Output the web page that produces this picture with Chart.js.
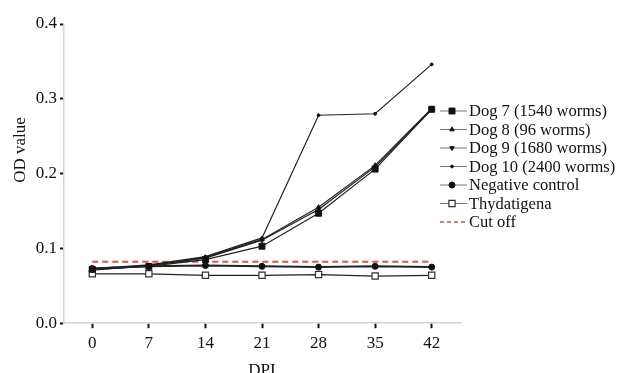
<!DOCTYPE html>
<html>
<head>
<meta charset="utf-8">
<script src="https://cdn.jsdelivr.net/npm/chart.js@4/dist/chart.umd.min.js"></script>
<style>
  html, body { margin: 0; padding: 0; background: #fff; }
  #wrap { width: 620px; height: 373px; }
</style>
</head>
<body>
<div id="wrap"><canvas id="odChart" width="620" height="373"></canvas></div>
<script>
// days post infection
const dpi = ['0', '7', '14', '21', '28', '35', '42'];

const dog7 = [0.072, 0.076, 0.085, 0.103, 0.147, 0.206, 0.286];
const dog8 = [0.072, 0.077, 0.088, 0.112, 0.155, 0.211, 0.287];
const dog9 = [0.071, 0.077, 0.087, 0.111, 0.152, 0.209, 0.286];
const dog10 = [0.073, 0.078, 0.089, 0.114, 0.278, 0.280, 0.346];
const negControl = [0.073, 0.076, 0.077, 0.076, 0.075, 0.076, 0.075];
const thydatigena = [0.066, 0.066, 0.064, 0.064, 0.065, 0.063, 0.064];
const cutOff = [0.082, 0.082, 0.082, 0.082, 0.082, 0.082, 0.082];

const seriesNames = ['Dog 7 (1540 worms)', 'Dog 8 (96 worms)', 'Dog 9 (1680 worms)',
  'Dog 10 (2400 worms)', 'Negative control', 'Thydatigena', 'Cut off'];

const serif = "'Liberation Serif', 'DejaVu Serif', serif";

function lineSet(label, data, style, radius, extra) {
  return Object.assign({
    label: label,
    data: data,
    borderColor: '#222',
    backgroundColor: '#111',
    borderWidth: 1.2,
    pointStyle: style,
    pointRadius: radius,
    pointBorderWidth: 1,
    pointBackgroundColor: '#111',
    pointBorderColor: '#111',
    tension: 0
  }, extra || {});
}

const datasets = [
  lineSet(seriesNames[0], dog7, 'rect', 4.2),
  lineSet(seriesNames[1], dog8, 'triangle', 2.6),
  lineSet(seriesNames[2], dog9, 'triangle', 2.6, { pointRotation: 180 }),
  lineSet(seriesNames[3], dog10, 'circle', 1.4),
  lineSet(seriesNames[4], negControl, 'circle', 3, { borderWidth: 2 }),
  lineSet(seriesNames[5], thydatigena, 'rect', 4.4, { pointBackgroundColor: '#fff', pointBorderColor: '#333', pointBorderWidth: 1.2 }),
  {
    label: seriesNames[6],
    data: cutOff,
    borderColor: '#e0553a',
    borderWidth: 2,
    borderDash: [6, 4],
    pointRadius: 0,
    pointStyle: false
  }
];

// legend at right (short line with the marker on it) and the y title
const sideLegend = {
  id: 'sideLegend',
  afterDraw(chart) {
    const ctx = chart.ctx;
    const x0 = 440, x1 = 467, mx = 452, tx = 469;
    ctx.save();
    chart.data.datasets.forEach((ds, i) => {
      const y = 111 + i * 18.5;
      ctx.beginPath();
      ctx.strokeStyle = ds.borderDash ? ds.borderColor : '#777';
      ctx.lineWidth = ds.borderDash ? 1.6 : 1;
      ctx.setLineDash(ds.borderDash ? [4, 3] : []);
      ctx.moveTo(x0, y);
      ctx.lineTo(x1, y);
      ctx.stroke();
      ctx.setLineDash([]);
      if (ds.pointRadius) {
        ctx.fillStyle = ds.pointBackgroundColor;
        ctx.strokeStyle = ds.pointBorderColor;
        ctx.lineWidth = ds.pointBorderWidth;
        Chart.helpers.drawPoint(ctx, {
          pointStyle: ds.pointStyle,
          radius: ds.pointRadius,
          rotation: ds.pointRotation || 0,
          borderWidth: ds.pointBorderWidth
        }, mx, y);
      }
      ctx.fillStyle = '#111';
      ctx.font = '16.5px ' + serif;
      ctx.textBaseline = 'middle';
      ctx.textAlign = 'left';
      ctx.fillText(ds.label, tx, y + 1);
    });
    // y axis title
    ctx.translate(21, 150);
    ctx.rotate(-Math.PI / 2);
    ctx.textAlign = 'center';
    ctx.font = '17px ' + serif;
    ctx.fillText('OD value', 0, 0);
    ctx.restore();
  }
};

new Chart(document.getElementById('odChart').getContext('2d'), {
  type: 'line',
  data: { labels: dpi, datasets: datasets },
  plugins: [sideLegend],
  options: {
    responsive: false,
    animation: false,
    layout: { padding: { top: 24, right: 160, left: 4, bottom: -8 } },
    plugins: { legend: { display: false }, tooltip: { enabled: false } },
    scales: {
      x: {
        type: 'category',
        offset: true,
        grid: { drawOnChartArea: false, color: '#111', tickLength: 5, tickWidth: 2 },
        border: { color: '#d4d4d4', width: 1.5 },
        ticks: { color: '#111', padding: 5, font: { family: serif, size: 17 } },
        title: { display: true, text: 'DPI', color: '#111', padding: { top: 2, bottom: 0 }, font: { family: serif, size: 17 } }
      },
      y: {
        min: 0,
        max: 0.4,
        afterFit: s => { s.width = 60; },
        grid: { drawOnChartArea: false, color: '#111', tickLength: 4, tickWidth: 2 },
        border: { color: '#d4d4d4', width: 1.5 },
        ticks: {
          stepSize: 0.1,
          color: '#111',
          padding: 3,
          font: { family: serif, size: 17 },
          callback: v => v.toFixed(1)
        }
      }
    }
  }
});
</script>
</body>
</html>
